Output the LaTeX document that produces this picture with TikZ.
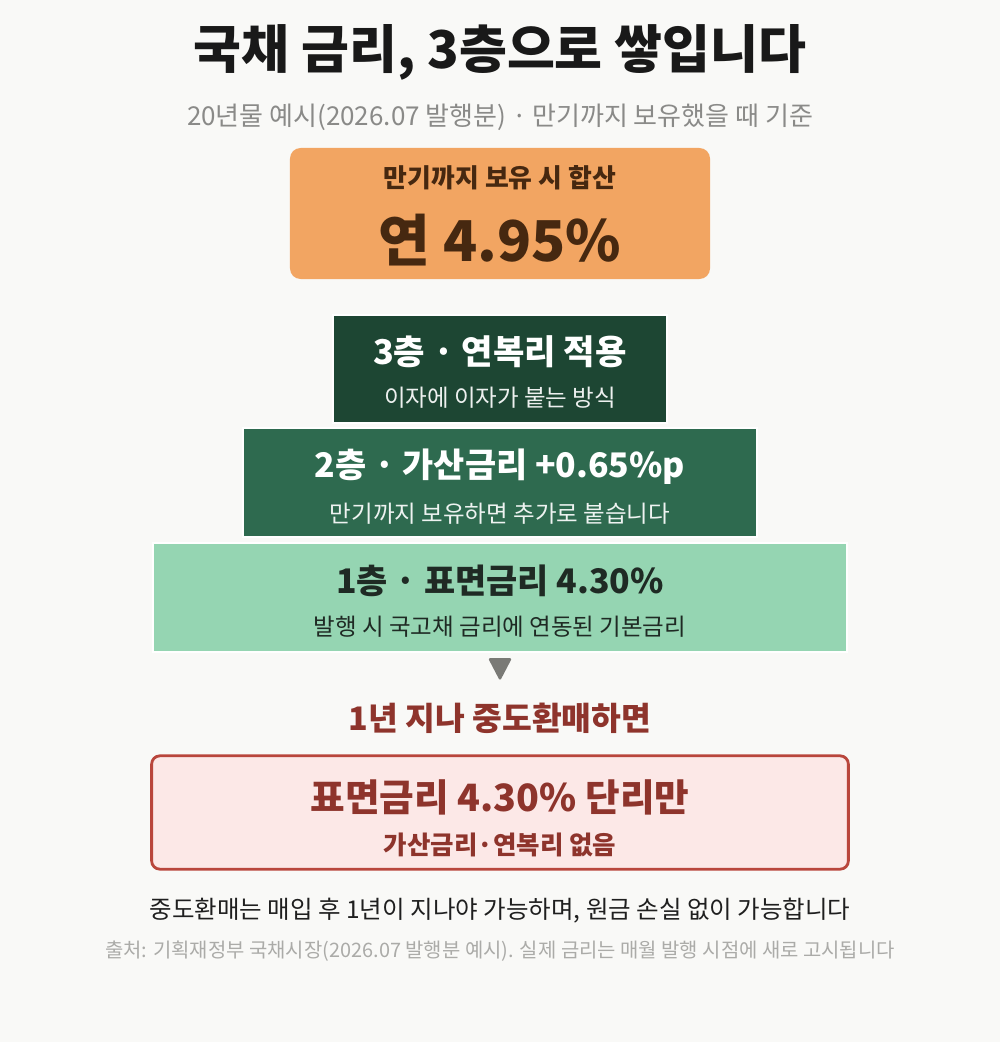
\documentclass[tikz,border=0pt]{standalone}
\usepackage{fontspec}
\setmainfont{Noto Sans CJK KR}
\usetikzlibrary{positioning}
\tikzset{>=latex}
\definecolor{bgcol}{HTML}{F9F9F7}
\definecolor{sumcol}{HTML}{F2A562}
\definecolor{sumtext}{HTML}{462810}
\definecolor{layerthree}{HTML}{1D4633}
\definecolor{layertwo}{HTML}{2E6A4F}
\definecolor{layerone}{HTML}{95D5B2}
\definecolor{onetext}{HTML}{1F2A24}
\definecolor{arrowcol}{HTML}{7A7A76}
\definecolor{redtext}{HTML}{8E342C}
\definecolor{redline}{HTML}{B9463C}
\definecolor{redfill}{HTML}{FCE8E7}
\definecolor{subgray}{HTML}{8A8A88}
\definecolor{footgray}{HTML}{ABABA8}
\newcommand{\px}[1]{\fontsize{\the\dimexpr #1pt*85/100\relax}{\the\dimexpr #1pt\relax}\selectfont}
\tikzset{
  layer/.style={draw=white, line width=1.2pt, inner sep=0pt},
  txt/.style={inner sep=0pt, anchor=center},
}
\begin{document}
\begin{tikzpicture}[x=0.03cm, y=-0.03cm]
      \fill[bgcol] (0,0) rectangle (1000,1042);
      \useasboundingbox (0,0) rectangle (1000,1042);
      \node[txt, text=black!90] (title) at (500,52) {\px{52.3}\bfseries 국채 금리, 3층으로 쌓입니다};
      \node[txt, text=subgray] (sub) at (500,117) {\px{26.1}20년물 예시(2026.07 발행분) · 만기까지 보유했을 때 기준};
      \node[fill=sumcol, rounded corners=9pt, minimum width=12.6cm, minimum height=3.93cm, inner sep=0pt] (sum) at (500,213.5) {};
      \node[txt, text=sumtext] (sumhead) at (500,178) {\px{26}\bfseries 만기까지 보유 시 합산};
      \node[txt, text=sumtext] (sumrate) at (500,240) {\px{56.5}\bfseries 연 4.95\%};
      \node[layer, fill=layerthree, minimum width=10.02cm, minimum height=3.24cm] (three) at (500,369) {};
      \node[txt, text=white] (threehead) at (500,352) {\px{34.3}\bfseries 3층 · 연복리 적용};
      \node[txt, text=white!92!layerthree] (threesub) at (500,398) {\px{23.6}이자에 이자가 붙는 방식};
      \node[layer, fill=layertwo, minimum width=15.42cm, minimum height=3.27cm] (two) at (500,482.5) {};
      \node[txt, text=white] (twohead) at (500,467) {\px{34}\bfseries 2층 · 가산금리 +0.65\%p};
      \node[txt, text=white!92!layertwo] (twosub) at (500,514) {\px{23.6}만기까지 보유하면 추가로 붙습니다};
      \node[layer, fill=layerone, minimum width=20.82cm, minimum height=3.27cm] (one) at (500,597.5) {};
      \node[txt, text=onetext] (onehead) at (500,581) {\px{34}\bfseries 1층 · 표면금리 4.30\%};
      \node[txt, text=onetext] (onesub) at (500,627) {\px{23.6}발행 시 국고채 금리에 연동된 기본금리};
      \coordinate (tipl) at (488,658);
      \coordinate (tipr) at (512,658);
      \coordinate (tipb) at (500,681);
      \fill[arrowcol, rounded corners=1.5pt] (tipl) -- (tipr) -- (tipb) -- cycle;
      \node[txt, text=redtext] (redeem) at (500,718) {\px{32.5}\bfseries 1년 지나 중도환매하면};
      \node[draw=redline, line width=2.4pt, fill=redfill, rounded corners=7pt, minimum width=20.9cm, minimum height=3.4cm, inner sep=0pt] (simple) at (500,812.5) {};
      \node[txt, text=redtext] (simplehead) at (500,797) {\px{37.8}\bfseries 표면금리 4.30\% 단리만};
      \node[txt, text=redtext] (simplesub) at (500,845) {\px{25.6}\bfseries 가산금리·연복리 없음};
      \node[txt, text=black!88] (note) at (500,911) {\px{24.6}중도환매는 매입 후 1년이 지나야 가능하며, 원금 손실 없이 가능합니다};
      \node[txt, text=footgray] (source) at (500,951) {\px{20}출처: 기획재정부 국채시장(2026.07 발행분 예시). 실제 금리는 매월 발행 시점에 새로 고시됩니다};
    \end{tikzpicture}
\end{document}
